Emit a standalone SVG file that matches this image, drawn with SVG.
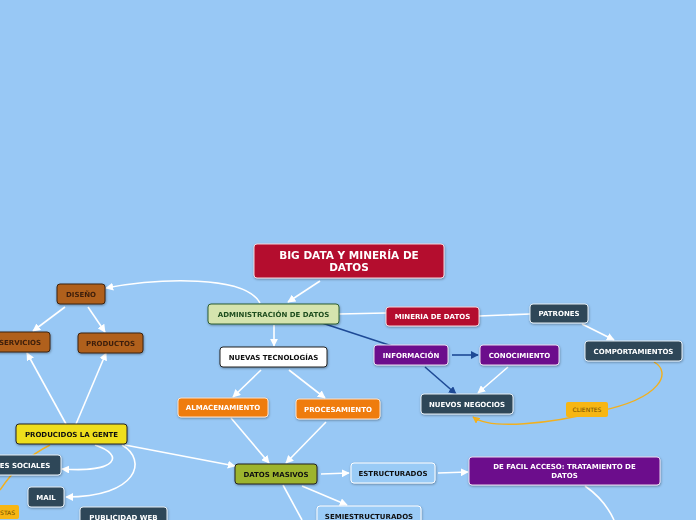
<svg xmlns="http://www.w3.org/2000/svg" width="696" height="520" viewBox="0 0 696 520">
<defs>
<style>
.t{font-family:"DejaVu Sans",Verdana,sans-serif;font-weight:bold;font-size:7px;text-anchor:middle}
.w{fill:#fff}.k{fill:#111}
.c{fill:none;stroke:#fff;stroke-width:1.6}
.cb{fill:none;stroke:#1E4A96;stroke-width:1.6}
.co{fill:none;stroke:#F2B01E;stroke-width:1.4}
.box{stroke-width:1}
</style>
<filter id="sh" x="-10%" y="-20%" width="130%" height="160%"><feDropShadow dx="0.5" dy="1" stdDeviation="0.8" flood-color="#000" flood-opacity="0.35"/></filter>
<marker id="aw" viewBox="0 0 10 10" refX="9" refY="5" markerWidth="8" markerHeight="8" markerUnits="userSpaceOnUse" orient="auto"><path d="M0,0 L10,5 L0,10 z" fill="#fff"/></marker>
<marker id="ab" viewBox="0 0 10 10" refX="9" refY="5" markerWidth="8" markerHeight="8" markerUnits="userSpaceOnUse" orient="auto"><path d="M0,0 L10,5 L0,10 z" fill="#1E4A96"/></marker>
<marker id="ao" viewBox="0 0 10 10" refX="9" refY="5" markerWidth="7" markerHeight="7" markerUnits="userSpaceOnUse" orient="auto"><path d="M0,0 L10,5 L0,10 z" fill="#F2B01E"/></marker>
</defs>
<rect width="696" height="520" fill="#98C8F5"/>
<g id="connectors">
<path class="c" d="M320,281 L288,302" marker-end="url(#aw)"/>
<path class="c" d="M260,303 C245,275 160,278 106,288" marker-end="url(#aw)"/>
<path class="c" d="M274,325 L274,346" marker-end="url(#aw)"/>
<path class="c" d="M339,314 L386,313"/>
<path class="c" d="M479,316 L530,314"/>
<path class="c" d="M582,324 L614,340" marker-end="url(#aw)"/>
<path class="cb" d="M322,323 L392,346"/>
<path class="cb" d="M452,355 L478,355" marker-end="url(#ab)"/>
<path class="cb" d="M425,367 L456,394" marker-end="url(#ab)"/>
<path class="c" d="M508,367 L478,393" marker-end="url(#aw)"/>
<path class="co" d="M654,362 C672,372 662,398 600,411 C550,424 490,430 473,417" marker-end="url(#ao)"/>
<path class="c" d="M261,370 L233,397" marker-end="url(#aw)"/>
<path class="c" d="M289,370 L325,398" marker-end="url(#aw)"/>
<path class="c" d="M231,418 L269,463" marker-end="url(#aw)"/>
<path class="c" d="M326,422 L286,463" marker-end="url(#aw)"/>
<path class="c" d="M125,445 L235,466" marker-end="url(#aw)"/>
<path class="c" d="M321,474 L349,473" marker-end="url(#aw)"/>
<path class="c" d="M302,486 L347,505" marker-end="url(#aw)"/>
<path class="c" d="M283,485 L302,520"/>
<path class="c" d="M438,473 L468,472" marker-end="url(#aw)"/>
<path class="c" d="M585,486 C598,495 608,507 614,520"/>
<path class="c" d="M66,424 L27,353" marker-end="url(#aw)"/>
<path class="c" d="M76,424 L106,353" marker-end="url(#aw)"/>
<path class="c" d="M65,307 L33,331" marker-end="url(#aw)"/>
<path class="c" d="M88,307 L105,332" marker-end="url(#aw)"/>
<path class="c" d="M95,445 C125,455 118,473 62,469" marker-end="url(#aw)"/>
<path class="c" d="M122,445 C148,460 138,497 66,497" marker-end="url(#aw)"/>
<path class="co" d="M50,445 Q20,460 0,490"/>
</g>
<g id="n-bigdata" filter="url(#sh)"><rect x="254" y="244" width="190" height="34" rx="3" fill="#B40C2E" stroke="#F3D6DC" class="box"/><text class="t w" x="349" y="259" style="font-size:10.5px">BIG DATA Y MINERÍA DE</text><text class="t w" x="349" y="271" style="font-size:10.5px">DATOS</text></g>
<g id="n-admin" filter="url(#sh)"><rect x="208" y="304" width="131" height="20" rx="3" fill="#D5E4AE" stroke="#2E5E34" class="box"/><text class="t" x="273.5" y="316.5" fill="#1F4D1F">ADMINISTRACIÓN DE DATOS</text></g>
<g id="n-mineria" filter="url(#sh)"><rect x="386" y="307" width="93" height="19" rx="3" fill="#B40C2E" stroke="#F3D6DC" class="box"/><text class="t w" x="432.5" y="319">MINERIA DE DATOS</text></g>
<g id="n-patrones" filter="url(#sh)"><rect x="530" y="304" width="58" height="19" rx="3" fill="#2D4759" stroke="#E6EEF4" class="box"/><text class="t w" x="559" y="316">PATRONES</text></g>
<g id="n-comport" filter="url(#sh)"><rect x="585" y="341" width="97" height="20" rx="3" fill="#2D4759" stroke="#E6EEF4" class="box"/><text class="t w" x="633.5" y="353.5">COMPORTAMIENTOS</text></g>
<g id="n-nuevastec" filter="url(#sh)"><rect x="220" y="347" width="107" height="20" rx="3" fill="#fff" stroke="#222" class="box"/><text class="t k" x="273.5" y="359.5">NUEVAS TECNOLOGÍAS</text></g>
<g id="n-informacion" filter="url(#sh)"><rect x="374" y="345" width="74" height="20" rx="3" fill="#6C0A8C" stroke="#EBDDF0" class="box"/><text class="t w" x="411" y="357.5">INFORMACIÓN</text></g>
<g id="n-conocimiento" filter="url(#sh)"><rect x="480" y="345" width="79" height="20" rx="3" fill="#6C0A8C" stroke="#EBDDF0" class="box"/><text class="t w" x="519.5" y="357.5">CONOCIMIENTO</text></g>
<g id="n-negocios" filter="url(#sh)"><rect x="421" y="394" width="92" height="20" rx="3" fill="#2D4759" stroke="#E6EEF4" class="box"/><text class="t w" x="467" y="406.5">NUEVOS NEGOCIOS</text></g>
<g id="n-clientes"><rect x="566" y="402" width="42" height="15" rx="2" fill="#F7B613"/><text x="587" y="412" text-anchor="middle" style="font-family:'DejaVu Sans',Verdana,sans-serif;font-size:6px" fill="#6B4A00">CLIENTES</text></g>
<g id="n-almacen" filter="url(#sh)"><rect x="178" y="398" width="90" height="19" rx="3" fill="#EF7B11" stroke="#FBE3CC" class="box"/><text class="t w" x="223" y="410">ALMACENAMIENTO</text></g>
<g id="n-proces" filter="url(#sh)"><rect x="296" y="399" width="84" height="20" rx="3" fill="#EF7B11" stroke="#FBE3CC" class="box"/><text class="t w" x="338" y="411.5">PROCESAMIENTO</text></g>
<g id="n-masivos" filter="url(#sh)"><rect x="235" y="464" width="82" height="20" rx="3" fill="#9DB42E" stroke="#222" class="box"/><text class="t k" x="276" y="476.5">DATOS MASIVOS</text></g>
<g id="n-estruct" filter="url(#sh)"><rect x="351" y="463" width="84" height="20" rx="3" fill="#9ACBF6" stroke="#fff" class="box"/><text class="t k" x="393" y="475.5">ESTRUCTURADOS</text></g>
<g id="n-semi" filter="url(#sh)"><rect x="317" y="506" width="104" height="20" rx="3" fill="#9ACBF6" stroke="#fff" class="box"/><text class="t k" x="369" y="518.5">SEMIESTRUCTURADOS</text></g>
<g id="n-facil" filter="url(#sh)"><rect x="469" y="457" width="191" height="28" rx="3" fill="#6C0A8C" stroke="#EBDDF0" class="box"/><text class="t w" x="564.5" y="468.5">DE FACIL ACCESO: TRATAMIENTO DE</text><text class="t w" x="564.5" y="478">DATOS</text></g>
<g id="n-diseno" filter="url(#sh)"><rect x="57" y="284" width="48" height="20" rx="3" fill="#B0601C" stroke="#3A2410" class="box"/><text class="t" x="81" y="296.5" fill="#3D1F0A">DISEÑO</text></g>
<g id="n-servicios" filter="url(#sh)"><rect x="-10" y="332" width="60" height="20" rx="3" fill="#B0601C" stroke="#3A2410" class="box"/><text class="t" x="20" y="344.5" fill="#3D1F0A">SERVICIOS</text></g>
<g id="n-productos" filter="url(#sh)"><rect x="78" y="333" width="65" height="20" rx="3" fill="#B0601C" stroke="#3A2410" class="box"/><text class="t" x="110.5" y="345.5" fill="#3D1F0A">PRODUCTOS</text></g>
<g id="n-producidos" filter="url(#sh)"><rect x="16" y="424" width="111" height="20" rx="3" fill="#EEDE1E" stroke="#222" class="box"/><text class="t k" x="71.5" y="436.5">PRODUCIDOS LA GENTE</text></g>
<g id="n-redes" filter="url(#sh)"><rect x="-27" y="455" width="88" height="20" rx="3" fill="#2D4759" stroke="#E6EEF4" class="box"/><text class="t w" x="17" y="467.5">REDES SOCIALES</text></g>
<g id="n-mail" filter="url(#sh)"><rect x="28" y="487" width="36" height="20" rx="3" fill="#2D4759" stroke="#E6EEF4" class="box"/><text class="t w" x="46" y="499.5">MAIL</text></g>
<g id="n-publicidad" filter="url(#sh)"><rect x="80" y="507" width="87" height="20" rx="3" fill="#2D4759" stroke="#E6EEF4" class="box"/><text class="t w" x="123.5" y="519.5">PUBLICIDAD WEB</text></g>
<g id="n-stas"><rect x="-20" y="505" width="39" height="14" rx="2" fill="#F7B613"/><text x="15" y="514.5" text-anchor="end" style="font-family:'DejaVu Sans',Verdana,sans-serif;font-size:6px" fill="#6B4A00">STAS</text></g>
</svg>
